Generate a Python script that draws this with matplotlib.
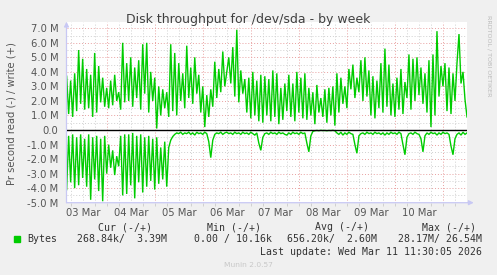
import numpy as np
import matplotlib
matplotlib.use("Agg")
import matplotlib.pyplot as plt
from matplotlib.ticker import FixedLocator

# ---------------- data (bytes per second, in millions) ----------------
start_day = 0.16          # days since 03 Mar 00:00
step_hours = 1.0

write_m = [
    3.7, 1.1, 3.4, 0.9, 3.9, 1.3, 5.5, 1.8, 4.9, 1.4,
    4.2, 1.5, 3.8, 0.9, 5.3, 1.2, 4.4, 1.9, 3.6, 1.6,
    2.9, 1.5, 3.4, 1.7, 3.8, 2.0, 2.6, 1.4, 6.0, 1.9,
    4.6, 2.0, 5.0, 1.6, 4.3, 2.2, 4.8, 1.4, 5.9, 2.5,
    6.0, 1.2, 4.0, 2.0, 3.6, 0.1, 3.0, 1.0, 2.8, 1.5,
    2.6, 0.9, 5.9, 1.3, 5.3, 1.0, 4.6, 2.0, 3.9, 1.5,
    5.8, 2.2, 4.3, 1.8, 5.0, 2.5, 3.8, 1.2, 3.0, 0.2,
    2.4, 0.9, 2.8, 1.6, 4.7, 2.2, 4.2, 2.6, 5.4, 3.0,
    4.0, 5.0, 3.2, 5.7, 2.3, 6.9, 1.9, 4.1, 2.5, 3.5,
    1.2, 3.6, 0.8, 4.0, 1.0, 3.4, 0.6, 3.8, 0.5, 3.7,
    1.0, 3.5, 0.6, 4.1, 0.9, 3.9, 0.4, 2.9, 0.7, 3.2,
    1.3, 3.8, 0.9, 3.2, 0.6, 4.0, 1.2, 3.6, 0.8, 3.9,
    0.7, 2.9, 1.0, 2.6, 0.4, 3.1, 1.2, 2.2, 0.9, 2.8,
    0.5, 2.9, 1.0, 3.0, 0.3, 3.9, 1.2, 3.6, 1.8, 3.0,
    1.5, 4.2, 2.8, 4.5, 2.2, 3.6, 2.6, 4.8, 2.0, 5.0,
    2.3, 4.1, 1.0, 3.7, 0.8, 3.4, 1.5, 4.6, 1.2, 5.6,
    1.6, 4.5, 1.0, 3.2, 0.9, 3.6, 1.4, 4.2, 1.1, 3.3,
    2.2, 5.2, 1.4, 4.9, 2.0, 5.0, 2.4, 4.3, 1.8, 3.9,
    1.2, 4.8, 0.2, 5.2, 1.0, 6.8, 2.3, 4.4, 3.0, 4.6,
    1.3, 4.3, 1.1, 3.9, 2.0, 4.6, 6.6, 3.2, 4.0, 2.1, 0.9,
]

read_m = [
    -4.1, -0.4, -3.6, -0.3, -4.0, -0.5, -3.8, -0.3, -3.3, -0.6,
    -3.9, -0.3, -4.8, -0.5, -3.4, -0.4, -4.2, -0.6, -4.9, -0.4,
    -3.0, -1.0, -2.6, -1.4, -3.1, -1.8, -2.5, -0.4, -4.5, -0.3,
    -4.4, -0.3, -3.8, -0.2, -4.7, -0.4, -3.6, -0.3, -4.3, -0.5,
    -3.9, -0.4, -3.5, -0.6, -4.1, -0.5, -3.7, -1.2, -3.4, -0.8,
    -3.9, -1.2, -0.7, -0.45, -0.3, -0.2, -0.25, -0.15, -0.3, -0.2,
    -0.25, -0.15, -0.3, -0.2, -0.35, -0.15, -0.25, -0.2, -0.3, -0.15,
    -0.25, -0.8, -1.9, -0.7, -0.3, -0.2, -0.25, -0.15, -0.3, -0.2,
    -0.15, -0.25, -0.2, -0.3, -0.15, -0.25, -0.2, -0.3, -0.15, -0.25,
    -0.2, -0.3, -0.15, -0.25, -0.35, -0.2, -0.9, -1.4, -0.5, -0.25,
    -0.2, -0.3, -0.15, -0.25, -0.2, -0.3, -0.15, -0.25, -0.2, -0.3,
    -0.35, -0.2, -0.3, -0.15, -0.25, -0.2, -0.3, -0.15, -0.25, -0.2,
    -0.9, -1.5, -0.4, -0.1, -0.05, -0.03, -0.05, -0.02, -0.04, -0.03,
    -0.05, -0.03, -0.04, -0.02, -0.05, -0.2, -0.3, -0.15, -0.35, -0.2,
    -0.3, -0.15, -0.25, -0.3, -1.0, -1.6, -0.4, -0.25, -0.2, -0.3,
    -0.15, -0.25, -0.2, -0.3, -0.15, -0.25, -0.2, -0.3, -0.2, -0.35,
    -0.2, -0.3, -0.15, -0.25, -0.2, -0.3, -0.15, -0.25, -1.0, -1.7,
    -0.5, -0.25, -0.2, -0.3, -0.15, -0.25, -0.3, -0.6, -1.5, -0.4,
    -0.2, -0.3, -0.15, -0.25, -0.2, -0.35, -0.2, -0.3, -0.15, -0.25,
    -0.2, -0.3, -1.1, -1.7, -0.6, -0.3, -0.2, -0.35, -0.15, -0.3, -0.2,
]

day_labels = ["03 Mar", "04 Mar", "05 Mar", "06 Mar", "07 Mar", "08 Mar", "09 Mar", "10 Mar"]
y_ticks_m = [-5, -4, -3, -2, -1, 0, 1, 2, 3, 4, 5, 6, 7]
y_tick_labels = ["-5.0 M", "-4.0 M", "-3.0 M", "-2.0 M", "-1.0 M", "0.0",
                 "1.0 M", "2.0 M", "3.0 M", "4.0 M", "5.0 M", "6.0 M", "7.0 M"]

legend_headers = ["Cur (-/+)", "Min (-/+)", "Avg (-/+)", "Max (-/+)"]
legend_values = ["268.84k/  3.39M", "0.00 / 10.16k", "656.20k/  2.60M", "28.17M/ 26.54M"]
series_name = "Bytes"
title = "Disk throughput for /dev/sda - by week"
ylabel = "Pr second read (-) / write (+)"
last_update = "Last update: Wed Mar 11 11:30:05 2026"

# ---------------- figure ----------------
W, H = 497, 275
fig = plt.figure(figsize=(W / 100, H / 100), dpi=100)
fig.patch.set_facecolor("#F0F0F0")

L, R, T, B = 66.5, 467.3, 21.7, 202.7
ax = fig.add_axes([L / W, 1 - B / H, (R - L) / W, (B - T) / H])
ax.set_facecolor("white")

t = start_day + np.arange(len(write_m)) * step_hours / 24.0
w = np.array(write_m) * 1e6
r = np.array(read_m) * 1e6

x_end = 8.4996
ax.set_xlim(0.157, x_end)
ax.set_ylim(-5e6, 7.45e6)

green = "#00CC00"
major_c = "#E8A0A0"
minor_c = "#D0D0D0"
dot = (0, (1, 2))

# grid
for k in range(-10, 15):
    yv = k * 0.5e6
    if yv < -5e6 or yv > 7.2e6 or k == 0:
        continue
    c = major_c if k % 2 == 0 else minor_c
    ax.axhline(yv, color=c, lw=0.7, ls=dot, zorder=1)
for q in range(0, 36):
    xv = q * 0.25
    if xv <= 0.157 or xv >= x_end:
        continue
    c = major_c if q % 4 == 0 else minor_c
    ax.axvline(xv, color=c, lw=0.7, ls=dot, zorder=1)

ax.plot(t, w, color=green, lw=1.0, zorder=3, solid_joinstyle="miter")
ax.plot(t, r, color=green, lw=1.0, zorder=3, solid_joinstyle="miter")
ax.axhline(0, color="black", lw=1.0, zorder=4)

# axes / spines
for s in ax.spines.values():
    s.set_visible(False)
axis_c = "#C8C8F4"
ax.annotate("", xy=(0, 1.0), xytext=(0, 0), xycoords="axes fraction",
            arrowprops=dict(arrowstyle="-|>", color=axis_c, lw=0.9,
                            mutation_scale=7, shrinkA=0, shrinkB=0))
ax.annotate("", xy=(1.016, 0), xytext=(0, 0), xycoords="axes fraction",
            arrowprops=dict(arrowstyle="-|>", color=axis_c, lw=0.9,
                            mutation_scale=7, shrinkA=0, shrinkB=0))

tick_c = "#555555"
ax.set_yticks([v * 1e6 for v in y_ticks_m])
ax.set_yticklabels(y_tick_labels)
ax.set_xticks([i + 0.5 for i in range(len(day_labels))])
ax.set_xticklabels(day_labels)
ax.tick_params(axis="both", length=0, labelsize=7.2, labelcolor=tick_c)
ax.tick_params(axis="y", pad=6)
ax.tick_params(axis="x", pad=4)
ax.xaxis.set_minor_locator(FixedLocator([q * 0.25 for q in range(1, 34)]))
ax.tick_params(axis="x", which="minor", length=2, color=minor_c, width=0.7)

# texts
def px(x, y):
    return x / W, 1 - y / H

fig.text(*px(248.5, 19), title, ha="center", va="center", fontsize=9.0,
         color="#404040", family="DejaVu Sans")
fig.text(*px(12, 114), ylabel, ha="center", va="center", rotation=90,
         fontsize=7.2, color=tick_c, family="DejaVu Sans")
fig.text(*px(489, 56), "RRDTOOL / TOBI OETIKER", ha="center", va="center",
         rotation=270, fontsize=4.6, color="#BBBBBB", family="DejaVu Sans")

mono = dict(family="DejaVu Sans Mono", fontsize=7.1, color="#333333", va="center")
for xh, txt in zip([98, 207, 315, 422], legend_headers):
    fig.text(*px(xh, 227), txt, ha="left", **mono)
fig.patches.append(plt.Rectangle(px(14, 242), 6 / W, 6 / H, color=green,
                                 transform=fig.transFigure, figure=fig))
fig.text(*px(27, 239), series_name, ha="left", **mono)
for xv, txt in zip([77, 194, 287, 398], legend_values):
    fig.text(*px(xv, 239), txt, ha="left", **mono)
fig.text(*px(482, 252), last_update, ha="right", **mono)
fig.text(*px(248, 265), "Munin 2.0.57", ha="center", va="center",
         fontsize=5.4, color="#C8C8C8", family="DejaVu Sans")

fig.savefig("out.png", dpi=100, facecolor=fig.get_facecolor())
